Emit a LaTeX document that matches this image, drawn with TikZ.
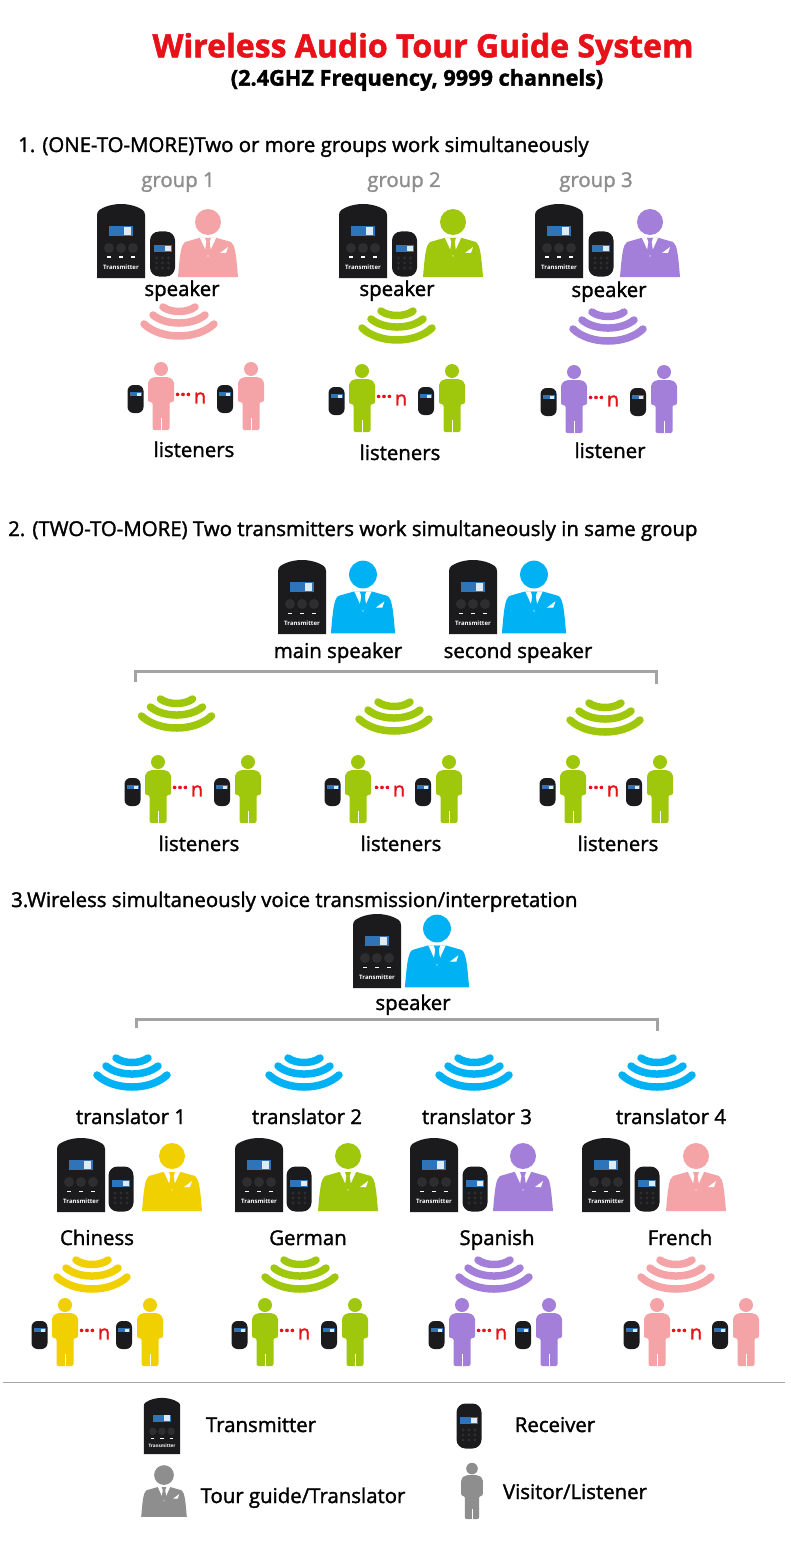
\documentclass[tikz,border=0pt]{standalone}
\usepackage{fontspec}
\setmainfont[FakeBold=1.6]{Open Sans}
\newfontfamily\tinyfont{Open Sans}
\usetikzlibrary{positioning}
\definecolor{pinkc}{HTML}{F4A3A6}
\definecolor{greenc}{HTML}{9FC80C}
\definecolor{purplec}{HTML}{A47FDA}
\definecolor{bluec}{HTML}{00B2F4}
\definecolor{yellowc}{HTML}{F0D000}
\definecolor{grayc}{HTML}{8E8E8E}
\definecolor{devc}{HTML}{1B1B1D}
\definecolor{keyc}{HTML}{2E2E30}
\definecolor{lcdc}{HTML}{2F73B8}
\definecolor{redc}{HTML}{E8111A}
\tikzset{
  title/.style={font=\fontsize{32}{36}\selectfont\bfseries, text=redc, inner sep=0pt},
  subt/.style={font=\fontsize{21.7}{24}\selectfont\bfseries, inner sep=0pt},
  sect/.style={font=\fontsize{20.4}{22}\selectfont, anchor=base west, inner sep=0pt},
  lbl/.style={font=\fontsize{20.4}{22}\selectfont, inner sep=0pt, text height=16pt, text depth=2pt},
  grp/.style={lbl, text=grayc},
  bracket/.style={draw=black!36, line width=3pt},
  pics/transmitter/.style={code={
    \fill[devc] (-24,37) -- (-24,-26) .. controls (-24,-31) and (-20,-32) .. (-16,-34)
      .. controls (-6,-38) and (6,-38) .. (16,-34) .. controls (20,-32) and (24,-31) .. (24,-26) -- (24,37) -- cycle;
    \fill[lcdc] (-12,-15) rectangle (12,-5);
    \fill[white!85!lcdc] (3,-14) rectangle (10,-6);
    \foreach \k in {-12,0,12} {
      \fill[keyc] (\k,7) circle (5);
      \fill[white] (\k-2,15.5) rectangle (\k+2,17);
    }
    \node[font=\tinyfont\fontsize{6}{7}\selectfont\bfseries, text=white, inner sep=0pt, transform shape] (lab) at (0,26) {Transmitter};
  }},
  pics/receiver/.style={code={
    \fill[devc, rounded corners=9pt] (-12.5,-22.5) rectangle (12.5,22.5);
    \fill[lcdc] (-9,-9) rectangle (9,-2);
    \fill[white!85!lcdc] (2,-8) rectangle (8,-3);
    \foreach \k in {-6,0,6} \foreach \m in {4,9,14}
      \fill[keyc] (\k,\m) circle (1.6);
  }},
  pics/smallrx/.style={code={
    \fill[devc, rounded corners=6pt] (-8,-14) rectangle (8,14);
    \fill[lcdc] (-6,-7) rectangle (6,-3);
    \fill[white!85!lcdc] (1,-6.5) rectangle (5,-3.5);
  }},
  pics/guide/.style={code={
    \fill[#1] (0,-21) circle (13);
    \fill[#1] (-9,-5) -- (-23,-1) .. controls (-27,2) and (-28,10) .. (-30,34) -- (30,34)
      .. controls (28,10) and (27,2) .. (23,-1) -- (9,-5) -- cycle;
    \fill[white] (-8,-5) -- (8,-5) -- (3,6) -- (0,14) -- (-3,6) -- cycle;
    \fill[#1] (-3,-5) -- (3,-5) -- (1.6,-1) -- (3.2,9) -- (0,13) -- (-3.2,9) -- (-1.6,-1) -- cycle;
    \fill[white] (12,10) -- (20,4) -- (18,10) -- cycle;
  }},
  pics/walker/.style={code={
    \fill[#1] (0,-27) circle (7);
    \fill[#1, rounded corners=2pt] (-13,6) -- (-13,-15) -- (-8,-19) -- (8,-19) -- (13,-15) -- (13,6)
      -- (8.5,6) -- (8.5,34) -- (-8.5,34) -- (-8.5,6) -- cycle;
    \draw[white, line width=.6pt] (0,22) -- (0,34);
  }},
  pics/waves/.style={code={
    \draw[#1, line width=7.5pt, line cap=round] (-16,-14) .. controls (-8,-8) and (8,-8) .. (16,-14);
    \draw[#1, line width=7.5pt, line cap=round] (-26,-6) .. controls (-13,4.7) and (13,4.7) .. (26,-6);
    \draw[#1, line width=7.5pt, line cap=round] (-35,3) .. controls (-18,19) and (18,19) .. (35,3);
  }},
  pics/crowd/.style args={#1/#2/#3}{code={
    \pic at (-25.5,3) {smallrx};
    \pic at (0,0) {walker=#1};
    \node[text=redc, font=\fontsize{19}{22}\selectfont\bfseries, inner sep=0pt] (dots) at (#2-17,1) {···};
    \node[text=redc, font=\fontsize{20}{22}\selectfont, inner sep=0pt] (count) at (#2,2) {n};
    \pic at (#3-26,3) {smallrx};
    \pic at (#3,0) {walker=#1};
  }},
}
\begin{document}
\begin{tikzpicture}[x=1pt, y=-1pt]
  \useasboundingbox (0,0) rectangle (790,1546);

  \node[title] (head) at (423,49) {Wireless Audio Tour Guide System};
  \node[subt] (sub) at (417,80) {(2.4GHZ Frequency, 9999 channels)};

  % part one
  \node[sect] (partA) at (18,152) {1. (ONE-TO-MORE)Two or more groups work simultaneously};
  \foreach \i/\xg/\c/\xt/\xr/\xp/\xs/\ys/\xw/\yw/\xl/\yl/\xb/\yb/\tl in {
      1/178/pinkc/121/162.5/208/182/289/179/321/161/396/194/450/listeners,
      2/404/greenc/363/404.5/453/397/289/397/325/362/398/400/453/listeners,
      3/596/purplec/559/601/650/609/290/608/326/574/399/610/451/listener} {
    \node[grp] (grp\i) at (\xg,180) {group \i};
    \pic at (\xt,241) {transmitter};
    \pic at (\xr,254) {receiver};
    \pic at (\xp,243) {guide=\c};
    \node[lbl] (spk\i) at (\xs,\ys) {speaker};
    \pic at (\xw,\yw) {waves=\c};
    \pic (row\i) at (\xl,\yl) {crowd=\c/39/90};
    \node[lbl] (lis\i) at (\xb,\yb) {\tl};
  }

  % part two
  \node[sect] (partB) at (8,536) {2. (TWO-TO-MORE) Two transmitters work simultaneously in same group};
  \pic at (302,597) {transmitter};
  \pic[scale=1.07] at (363,597) {guide=bluec};
  \pic at (473,597) {transmitter};
  \pic[scale=1.07] at (534,597) {guide=bluec};
  \node[lbl] (mainspk) at (338,651) {main speaker};
  \node[lbl] (secspk) at (518,651) {second speaker};
  \coordinate (brA) at (135,682);
  \coordinate (brB) at (656,684);
  \draw[bracket] (brA) -- ++(0,-11) -| (brB);
  \foreach \i/\xw/\yw/\xl/\xn/\xf/\xb in {
      1/176.5/713/158/39/90/199,
      2/394/716/358/41/91/401,
      3/605/717/573/40/87/618} {
    \pic at (\xw,\yw) {waves=greenc};
    \pic (mid\i) at (\xl,789) {crowd=greenc/\xn/\xf};
    \node[lbl] (midlis\i) at (\xb,844) {listeners};
  }

  % part three
  \node[sect] (partC) at (11,907) {3.Wireless simultaneously voice transmission/interpretation};
  \pic at (377,951) {transmitter};
  \pic[scale=1.07] at (437,951) {guide=bluec};
  \node[lbl] (topspk) at (413,1003) {speaker};
  \coordinate (brC) at (136,1028);
  \coordinate (brD) at (657,1031);
  \draw[bracket] (brC) -- ++(0,-9) -| (brD);
  \foreach \i/\xw/\xa/\c/\xt/\xr/\xp/\tl/\xb/\xv/\xl/\xf in {
      1/132/131/yellowc/81/121/172/Chiness/97/92/65/85,
      2/304/307/greenc/259/299/348/German/308/300/265/90,
      3/474/477/purplec/434/475/523/Spanish/497/494/462/87,
      4/657/671/pinkc/606/647/696/French/680/676/657/89} {
    \pic at (\xw,1072) {waves=bluec};
    \node[lbl] (trn\i) at (\xa,1117) {translator \i};
    \pic at (\xt,1175) {transmitter};
    \pic at (\xr,1189) {receiver};
    \pic at (\xp,1177) {guide=\c};
    \node[lbl] (lang\i) at (\xb,1238) {\tl};
    \pic at (\xv,1274) {waves=\c};
    \pic (low\i) at (\xl,1332) {crowd=\c/39/\xf};
  }

  % key
  \coordinate (ruleL) at (3,1382);
  \coordinate (ruleR) at (785,1382);
  \draw[black!35, line width=.8pt] (ruleL) -- (ruleR);
  \pic[scale=.76, transform shape] at (162,1426) {transmitter};
  \node[lbl] (keyTx) at (261,1425) {Transmitter};
  \pic at (469,1426) {receiver};
  \node[lbl] (keyRx) at (555,1425) {Receiver};
  \pic[scale=.76] at (164,1491) {guide=grayc};
  \node[lbl] (keyTg) at (303,1496) {Tour guide/Translator};
  \pic[scale=.83] at (472,1491) {walker=grayc};
  \node[lbl] (keyVi) at (575,1492) {Visitor/Listener};
\end{tikzpicture}
\end{document}
